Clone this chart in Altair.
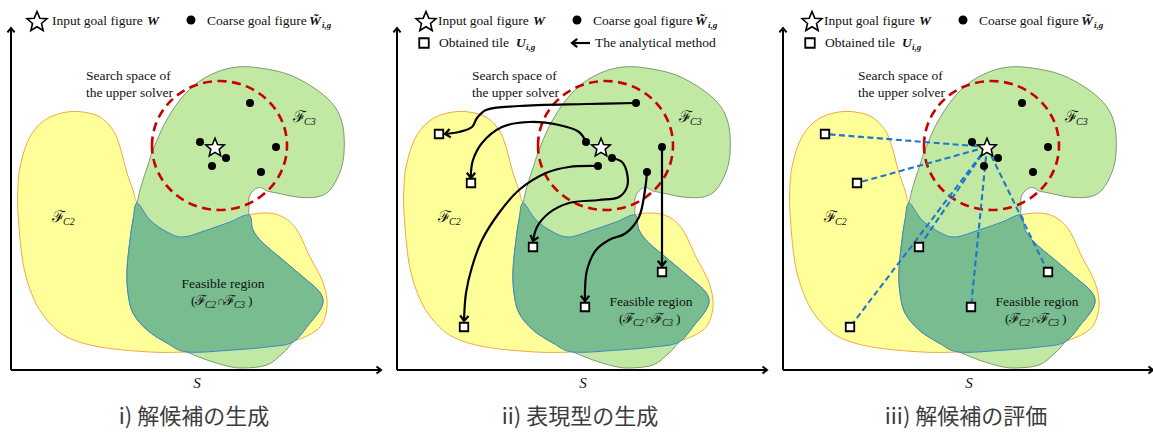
import math
import altair as alt
import pandas as pd

W, H = 1153, 435
PANEL_DX = [0, 386, 772]
PANELS = [0, 1, 2]

# ---------------- region outlines (panel-local, y grows downward) ----------------
yellow_x = [67, 83, 100, 113, 120, 127, 133, 137, 150, 167, 183, 207, 230, 249, 267, 283, 297, 310, 322, 327,
            325, 317, 297, 267, 233, 187, 150, 100, 67, 47, 33, 23, 18, 18, 20, 27, 37, 50]
yellow_y = [112, 112, 117, 130, 147, 173, 190, 203, 220, 232, 237, 230, 222, 215, 213, 217, 230, 257, 280, 300,
            317, 330, 340, 347, 350, 352, 352, 347, 337, 320, 297, 263, 213, 185, 167, 143, 127, 117]

green_x = [137, 140, 143, 148, 153, 165, 180, 197, 217, 237, 260, 290, 317, 335, 343, 344, 340, 330, 317, 297,
           277, 267, 262, 257, 252, 249, 249, 249, 253, 263, 283, 303, 318, 323, 320, 310, 293, 283, 267, 243,
           227, 207, 187, 167, 147, 133, 128, 127, 130, 133]
green_y = [203, 190, 180, 165, 150, 123, 100, 83, 72, 67, 68, 75, 90, 107, 127, 153, 172, 190, 197, 197,
           193, 191, 188, 188, 192, 198, 207, 215, 230, 243, 260, 277, 290, 300, 310, 323, 342, 353, 365, 368,
           366, 360, 352, 343, 330, 313, 293, 270, 240, 220]

dark_x = [137, 150, 167, 183, 207, 230, 249, 253, 263, 283, 303, 318, 323, 320, 310, 293, 267, 233, 187, 167,
          147, 133, 128, 127, 130, 133]
dark_y = [203, 220, 232, 237, 230, 222, 215, 230, 243, 260, 277, 290, 300, 310, 323, 342, 347, 350, 352, 343,
          330, 313, 293, 270, 240, 220]

# search space centre
circle_x, circle_y = 219.5, 145.5

# goal figures
star_x, star_y = 215, 147
dot_x = [200, 226, 212, 250, 276, 261]
dot_y = [142, 158, 166, 103, 147, 172]

# obtained tiles (panels ii, iii)
tile_x = [53, 85, 147, 276, 199, 78]
tile_y = [134, 183, 247, 272, 307, 327]

# analytical-method paths (panel ii)
arrow_paths = [
    [(250, 103), (200, 104), (133, 106), (100, 110), (91, 118), (86, 127), (73, 132), (59, 134)],
    [(200, 142), (193, 132), (173, 125), (143, 122), (116, 127), (96, 143), (87, 160), (85, 172), (85, 178)],
    [(212, 166), (183, 167), (160, 173), (133, 190), (113, 213), (96, 240), (86, 267), (80, 293), (78, 321)],
    [(226, 158), (236, 162), (241, 173), (241, 187), (233, 197), (213, 200), (183, 203), (163, 213), (151, 227), (147, 241)],
    [(261, 172), (259, 190), (253, 217), (240, 233), (223, 240), (210, 250), (201, 270), (199, 290), (199, 301)],
    [(276, 147), (276, 266)],
]
legend_arrow = [(204, 43), (186, 43)]

titles = ["i) 解候補の生成", "ii) 表現型の生成", "iii) 解候補の評価"]
legend_star_x = [37, 40, 40]

# ---------------- helpers ----------------
X = alt.X('x:Q', scale=alt.Scale(domain=[0, W], nice=False, zero=False), axis=None)
Y = alt.Y('y:Q', scale=alt.Scale(domain=[0, H], nice=False, zero=False, reverse=True), axis=None)


def path_df(points, dx):
    return pd.DataFrame([dict(i=i, x=x + dx, y=y) for i, (x, y) in enumerate(points)])


layers = []

# filled regions: one layer per outline per panel
for p in PANELS:
    for xs, ys, fill, stroke in [(yellow_x, yellow_y, '#ffff99', '#f0a848'),
                                 (green_x, green_y, '#c2e9a3', '#7f9a72'),
                                 (dark_x, dark_y, '#79bc8f', '#3f86c4')]:
        layers.append(alt.Chart(path_df(list(zip(xs, ys)), PANEL_DX[p])).mark_line(
            interpolate='cardinal-closed', fill=fill, stroke=stroke, strokeWidth=1
        ).encode(x=X, y=Y, order='i:Q'))

# dashed search-space ellipse
ELLIPSE = 'M-1,0A1,0.955,0,1,1,1,0A1,0.955,0,1,1,-1,0Z'
circ_df = pd.DataFrame([dict(x=circle_x + PANEL_DX[p], y=circle_y) for p in PANELS])
layers.append(alt.Chart(circ_df).mark_point(
    shape=ELLIPSE, size=135 ** 2, filled=False, stroke='#c80000', strokeWidth=2.6,
    strokeDash=[9, 5.5], opacity=1).encode(x=X, y=Y))

# panel iii evaluation lines
for tx, ty in zip(tile_x, tile_y):
    layers.append(alt.Chart(path_df([(star_x, star_y), (tx, ty)], PANEL_DX[2])).mark_line(
        color='#1e78c8', strokeWidth=2.1, strokeDash=[6, 3.5]).encode(x=X, y=Y, order='i:Q'))

# panel ii arrows
head_rows = []
for path in arrow_paths + [legend_arrow]:
    layers.append(alt.Chart(path_df(path, PANEL_DX[1])).mark_line(
        interpolate='catmull-rom', color='black', strokeWidth=2.2).encode(x=X, y=Y, order='i:Q'))
    (x1, y1), (x2, y2) = path[-2], path[-1]
    ang = math.degrees(math.atan2(y2 - y1, x2 - x1)) % 360
    head_rows.append(dict(x=x2 + PANEL_DX[1], y=y2, angle=ang))

# axes
axis_rows, axis_heads = [], []
for p in PANELS:
    dx = PANEL_DX[p]
    axis_rows.append(dict(x=11 + dx, y=370, x2=11 + dx, y2=30))
    axis_rows.append(dict(x=11 + dx, y=370, x2=380 + dx, y2=370))
    axis_heads.append(dict(x=11 + dx, y=28, angle=270))
    axis_heads.append(dict(x=381 + dx, y=370, angle=0))
layers.append(alt.Chart(pd.DataFrame(axis_rows)).mark_rule(color='black', strokeWidth=2).encode(
    x=X, y=Y, x2='x2:Q', y2='y2:Q'))

HEAD = 'M-1,-0.8L0,0L-1,0.8'
layers.append(alt.Chart(pd.DataFrame(head_rows)).mark_point(
    shape=HEAD, size=110, filled=False, stroke='black', strokeWidth=2.2, opacity=1).encode(
    x=X, y=Y, angle=alt.Angle('angle:Q', scale=None)))
layers.append(alt.Chart(pd.DataFrame(axis_heads)).mark_point(
    shape=HEAD, size=80, filled=False, stroke='black', strokeWidth=2, opacity=1).encode(
    x=X, y=Y, angle=alt.Angle('angle:Q', scale=None)))

# dots
dot_rows = [dict(x=x + PANEL_DX[p], y=y, s=64) for p in PANELS for x, y in zip(dot_x, dot_y)]
dot_rows += [dict(x=191 + PANEL_DX[p], y=20, s=81) for p in PANELS]
layers.append(alt.Chart(pd.DataFrame(dot_rows)).mark_point(
    shape='circle', filled=True, color='black', opacity=1).encode(
    x=X, y=Y, size=alt.Size('s:Q', scale=None)))

# stars (custom five-point outline)
pts = []
for k in range(10):
    r = 1.0 if k % 2 == 0 else 0.45
    a = math.radians(-90 + 36 * k)
    pts.append(f"{r * math.cos(a):.3f},{r * math.sin(a):.3f}")
STAR = 'M' + 'L'.join(pts) + 'Z'
star_rows = [dict(x=star_x + PANEL_DX[p], y=star_y + 1, s=380) for p in PANELS]
star_rows += [dict(x=legend_star_x[p] + PANEL_DX[p], y=22, s=440) for p in PANELS]
layers.append(alt.Chart(pd.DataFrame(star_rows)).mark_point(
    shape=STAR, filled=True, fill='white', stroke='black', strokeWidth=1.6, opacity=1).encode(
    x=X, y=Y, size=alt.Size('s:Q', scale=None)))

# tiles (custom square)
SQUARE = 'M-1,-1L1,-1L1,1L-1,1Z'
tile_rows = [dict(x=x + PANEL_DX[p], y=y, s=72) for p in (1, 2) for x, y in zip(tile_x, tile_y)]
tile_rows += [dict(x=38 + PANEL_DX[p], y=43, s=90) for p in (1, 2)]
layers.append(alt.Chart(pd.DataFrame(tile_rows)).mark_point(
    shape=SQUARE, filled=True, fill='white', stroke='black', strokeWidth=1.8, opacity=1).encode(
    x=X, y=Y, size=alt.Size('s:Q', scale=None)))

# ---------------- texts ----------------
SERIF = 'Liberation Serif'
STYLES = {
    'reg': dict(font=SERIF, fontSize=13.5),
    'cen': dict(font=SERIF, fontSize=13.5, align='center'),
    'bi': dict(font=SERIF, fontSize=13.5, fontStyle='italic', fontWeight='bold'),
    'bis': dict(font=SERIF, fontSize=9, fontStyle='italic', fontWeight='bold'),
    'scr': dict(font='DejaVu Serif', fontSize=16),
    'scr2': dict(font='DejaVu Serif', fontSize=14),
    'it': dict(font=SERIF, fontSize=10, fontStyle='italic'),
    'it2': dict(font=SERIF, fontSize=9.5, fontStyle='italic'),
    'cap': dict(font=SERIF, fontSize=12),
    'S': dict(font=SERIF, fontSize=15, fontStyle='italic', align='center'),
    'cjk': dict(font='Noto Sans CJK JP', fontSize=22, align='center', color='#3c3c3c'),
}
texts = []
for p in PANELS:
    dx = PANEL_DX[p]
    texts += [('reg', 52 + dx, 21, 'Input goal figure'),
              ('reg', 207 + dx, 21, 'Coarse goal figure'),
              ('reg', 86 + dx, 76, 'Search space of'),
              ('reg', 86 + dx, 93, 'the upper solver'),
              ('bi', 147 + dx, 21, 'W'),
              ('bi', 309 + dx, 21, 'W\u0303'),
              ('bis', 322 + dx, 25, 'i,g'),
              ('scr', 293 + dx, 117, 'ℱ'), ('it', 304 + dx, 122, 'C3'),
              ('scr', 52 + dx, 217, 'ℱ'), ('it', 63 + dx, 222, 'C2')]
    fx, fy = (223, 284) if p == 0 else (265, 302)
    texts.append(('cen', fx + dx, fy, 'Feasible region'))
    lx, ly = fx + dx - 32, fy + 17
    texts += [('reg', lx, ly, '('), ('scr2', lx + 4, ly, 'ℱ'), ('it2', lx + 14, ly + 4, 'C2'),
              ('cap', lx + 26, ly, '∩'), ('scr2', lx + 33, ly, 'ℱ'), ('it2', lx + 43, ly + 4, 'C3'),
              ('reg', lx + 57, ly, ')')]
    texts.append(('S', 197 + dx, 383, 'S'))
    texts.append(('cjk', 194 + dx, 417, titles[p]))
for p in (1, 2):
    dx = PANEL_DX[p]
    texts += [('reg', 53 + dx, 43, 'Obtained tile'), ('bi', 130 + dx, 43, 'U'), ('bis', 140 + dx, 47, 'i,g')]
texts.append(('reg', 209 + PANEL_DX[1], 43, 'The analytical method'))

tdf = pd.DataFrame(texts, columns=['g', 'x', 'y', 't'])
for g, st in STYLES.items():
    props = dict(baseline='middle', align='left', color='#111')
    props.update(st)
    layers.append(alt.Chart(tdf[tdf.g == g]).mark_text(**props).encode(x=X, y=Y, text='t:N'))

chart = alt.layer(*layers).properties(
    width=W, height=H, padding=0, autosize=alt.AutoSizeParams(type='none'),
    background='white'
).configure_view(stroke=None)

chart.save("out.html", embed_options={"renderer": "svg", "actions": False})
